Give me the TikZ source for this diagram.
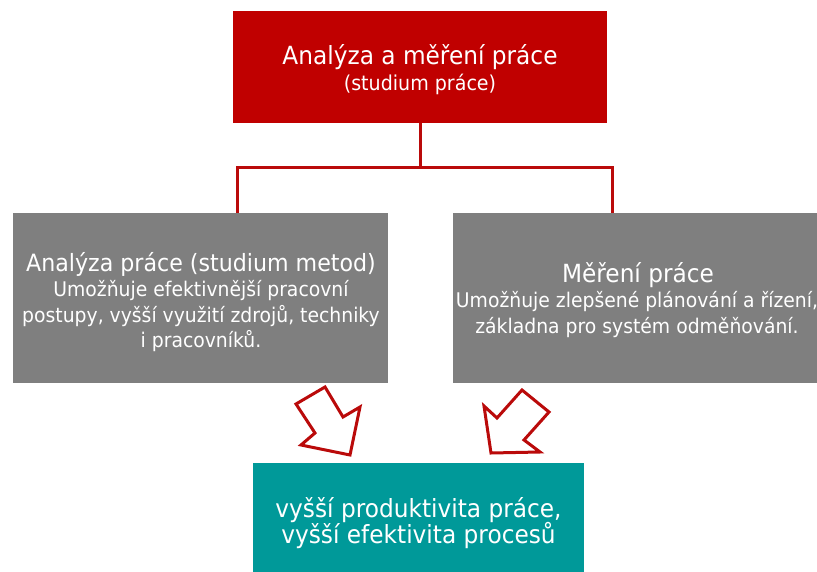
\documentclass[tikz,border=0pt]{standalone}
\usepackage{fontspec}
\setmainfont{DejaVu Sans}[FakeStretch=0.93]
\definecolor{boxred}{HTML}{C00000}
\definecolor{boxgray}{HTML}{7F7F7F}
\definecolor{boxteal}{HTML}{009999}
\definecolor{linkred}{HTML}{BA0A0A}
\tikzset{
  panel/.style={rectangle, inner sep=0pt, outer sep=0pt, anchor=north west},
  redpanel/.style={panel, fill=boxred},
  graypanel/.style={panel, fill=boxgray},
  tealpanel/.style={panel, fill=boxteal},
  bigtxt/.style={text=white, inner sep=0pt, anchor=base, font=\fontsize{25}{30}\selectfont},
  midtxt/.style={text=white, inner sep=0pt, anchor=base, font=\fontsize{20.5}{25}\selectfont},
  smalltxt/.style={text=white, inner sep=0pt, anchor=base, font=\fontsize{20.2}{25}\selectfont},
  link/.style={draw=linkred, line width=3pt},
  blockarrow/.style={draw=linkred, fill=white, line width=3pt, line join=miter}
}
\begin{document}
\begin{tikzpicture}[x=1pt, y=-1pt]
\useasboundingbox (0,0) rectangle (817,572);

% panels
\node[redpanel, minimum width=374pt, minimum height=112pt] (top) at (233,11) {};
\node[graypanel, minimum width=375pt, minimum height=170pt] (left) at (13,213) {};
\node[graypanel, minimum width=364pt, minimum height=170pt] (right) at (453,213) {};
\node[tealpanel, minimum width=331pt, minimum height=109pt] (result) at (253,463) {};

% tree connector
\coordinate (hub) at (420,168);
\coordinate (lj) at (237,213);
\coordinate (rj) at (612,213);
\draw[link] (top.south) -- (hub);
\draw[link] (lj) |- (hub) -| (rj);

% block arrows towards the result
\draw[blockarrow] (296,404) -- (325,387) -- (343,417) -- (360,407) -- (350,455) -- (301,445) -- (315,433) -- cycle;
\draw[blockarrow] (522,390) -- (549,412) -- (524,440) -- (540,452) -- (491,453) -- (484,406) -- (497,418) -- cycle;

% title panel text
\node[bigtxt] (t1) at (420,65) {Analýza a měření práce};
\node[midtxt] (t2) at (420,91) {(studium práce)};

% left panel text
\node[bigtxt, font=\fontsize{23.8}{28}\selectfont] (l1) at (201,272) {Analýza práce (studium metod)};
\node[smalltxt] (l2) at (201,297) {Umožňuje efektivnější pracovní};
\node[smalltxt] (l3) at (201,322) {postupy, vyšší využití zdrojů, techniky};
\node[smalltxt] (l4) at (201,347) {i pracovníků.};

% right panel text
\node[bigtxt] (r1) at (638,283) {Měření práce};
\node[smalltxt] (r2) at (637,308) {Umožňuje zlepšené plánování a řízení,};
\node[smalltxt] (r3) at (637,334) {základna pro systém odměňování.};

% result panel text
\node[bigtxt] (e1) at (418.5,517) {vyšší produktivita práce,};
\node[bigtxt] (e2) at (418.5,543) {vyšší efektivita procesů};
\end{tikzpicture}
\end{document}
